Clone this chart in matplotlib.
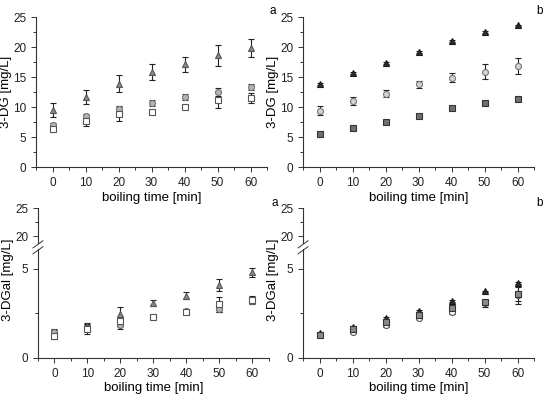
import matplotlib.pyplot as plt
from matplotlib.ticker import MultipleLocator

plt.rcParams['font.family'] = ['Liberation Sans', 'DejaVu Sans']
plt.rcParams['font.size'] = 8

times = [0, 10, 20, 30, 40, 50, 60]

# panel a, 3-DG
a_tri = [9.5, 11.7, 13.9, 15.8, 17.1, 18.6, 19.8]
a_tri_err = [1.1, 1.2, 1.4, 1.3, 1.3, 1.7, 1.5]
a_cir = [7.0, 8.5, 9.7, 10.6, 11.7, 12.5, 13.3]
a_cir_err = [0.3, 0.3, 0.5, 0.5, 0.5, 0.7, 0.5]
a_sq = [6.4, 7.7, 8.8, 9.2, 10.0, 11.1, 11.5]
a_sq_err = [0.3, 0.8, 1.2, 0.3, 0.3, 1.2, 0.9]

# panel b, 3-DG
b_tri = [13.8, 15.7, 17.4, 19.2, 21.0, 22.5, 23.6]
b_tri_err = [0.15, 0.15, 0.15, 0.15, 0.2, 0.15, 0.15]
b_cir = [9.4, 11.0, 12.2, 13.8, 14.9, 15.9, 16.8]
b_cir_err = [0.8, 0.6, 0.6, 0.6, 0.8, 1.2, 1.3]
b_sq = [5.5, 6.5, 7.5, 8.5, 9.8, 10.7, 11.4]
b_sq_err = [0.2, 0.2, 0.2, 0.2, 0.2, 0.2, 0.2]

# panel a, 3-DGal
c_tri = [1.42, 1.8, 2.45, 3.07, 3.5, 4.1, 4.8]
c_tri_err = [0.15, 0.15, 0.4, 0.15, 0.2, 0.35, 0.25]
c_cir = [1.45, 1.7, 1.85, 2.3, 2.65, 2.75, 3.2]
c_cir_err = [0.2, 0.2, 0.2, 0.05, 0.05, 0.15, 0.1]
c_sq = [1.25, 1.6, 2.05, 2.3, 2.6, 3.0, 3.25]
c_sq_err = [0.2, 0.25, 0.25, 0.05, 0.05, 0.4, 0.2]

# panel b, 3-DGal
d_tri = [1.38, 1.76, 2.23, 2.64, 3.17, 3.73, 4.2]
d_tri_err = [0.05, 0.05, 0.05, 0.05, 0.05, 0.05, 0.05]
d_cir = [1.3, 1.48, 1.82, 2.26, 2.6, 3.07, 3.54]
d_cir_err = [0.05, 0.1, 0.1, 0.1, 0.15, 0.2, 0.5]
d_sq = [1.3, 1.6, 2.0, 2.4, 2.78, 3.15, 3.6]
d_sq_err = [0.05, 0.1, 0.1, 0.1, 0.1, 0.1, 0.4]

style_a = [('^', '#8a8a8a', '#555555'), ('o', '#b4b4b4', '#777777'), ('s', 'white', '#555555')]
style_b = [('^', '#2e2e2e', '#1a1a1a'), ('o', '#d4d4d4', '#777777'), ('s', '#707070', '#333333')]
style_c = [('^', '#8a8a8a', '#555555'), ('o', '#b4b4b4', '#666666'), ('s', 'white', '#555555')]
style_d = [('^', '#2e2e2e', '#1a1a1a'), ('o', 'white', '#555555'), ('s', '#8a8a8a', '#333333')]


def draw_series(ax, series, styles):
    for (vals, errs), (m, fc, ec) in zip(series, styles):
        ax.errorbar(times, vals, yerr=errs, fmt=m, ms=4.3, mfc=fc, mec=ec, mew=0.8,
                    ecolor='#222222', elinewidth=0.8, capsize=2, capthick=0.8)


def style_axis(ax):
    for s in ['top', 'right']:
        ax.spines[s].set_visible(False)
    for s in ['left', 'bottom']:
        ax.spines[s].set_linewidth(0.8)
        ax.spines[s].set_color('#333333')
    ax.tick_params(which='both', direction='out', width=0.7, colors='#333333', labelcolor='#222222')
    ax.tick_params(which='major', length=3.5, labelsize=8.5)
    ax.tick_params(which='minor', length=2)


fig = plt.figure(figsize=(5.5, 3.96), dpi=100)

# top panels
for left, series, styles, lab in [
        (0.0655, [(a_tri, a_tri_err), (a_cir, a_cir_err), (a_sq, a_sq_err)], style_a, 'a'),
        (0.551, [(b_tri, b_tri_err), (b_cir, b_cir_err), (b_sq, b_sq_err)], style_b, 'b')]:
    ax = fig.add_axes([left, 0.578, 0.42, 0.379])
    draw_series(ax, series, styles)
    ax.set_xlim(-5, 65)
    ax.set_ylim(0, 25)
    ax.xaxis.set_major_locator(MultipleLocator(10))
    ax.xaxis.set_minor_locator(MultipleLocator(5))
    ax.yaxis.set_major_locator(MultipleLocator(5))
    ax.yaxis.set_minor_locator(MultipleLocator(2.5))
    style_axis(ax)
    ax.set_xlabel('boiling time [min]', fontsize=9.5, labelpad=2)
    ax.set_ylabel('3-DG [mg/L]', fontsize=9.5)
    ax.yaxis.set_label_coords(-0.105, 0.5)
    fig.text(left + 0.43, 0.972, lab, fontsize=8.5, ha='center', va='center')

# bottom panels with broken y axis
for left, series, styles, lab in [
        (0.069, [(c_tri, c_tri_err), (c_cir, c_cir_err), (c_sq, c_sq_err)], style_c, 'a'),
        (0.551, [(d_tri, d_tri_err), (d_cir, d_cir_err), (d_sq, d_sq_err)], style_d, 'b')]:
    ax_lo = fig.add_axes([left, 0.096, 0.42, 0.275])
    ax_hi = fig.add_axes([left, 0.386, 0.42, 0.088], sharex=ax_lo)
    draw_series(ax_lo, series, styles)
    ax_lo.set_xlim(-5, 65)
    ax_lo.set_ylim(0, 6.1)
    ax_hi.set_ylim(18.75, 25)
    ax_lo.xaxis.set_major_locator(MultipleLocator(10))
    ax_lo.xaxis.set_minor_locator(MultipleLocator(5))
    ax_lo.yaxis.set_major_locator(MultipleLocator(5))
    ax_lo.yaxis.set_minor_locator(MultipleLocator(2.5))
    ax_hi.yaxis.set_major_locator(MultipleLocator(5))
    ax_hi.yaxis.set_minor_locator(MultipleLocator(2.5))
    style_axis(ax_lo)
    style_axis(ax_hi)
    ax_hi.spines['bottom'].set_visible(False)
    ax_hi.tick_params(axis='x', which='both', bottom=False, labelbottom=False)
    ax_hi.patch.set_alpha(0)
    ax_lo.set_xlabel('boiling time [min]', fontsize=9.5, labelpad=2)
    ax_lo.set_ylabel('3-DGal [mg/L]', fontsize=9.5)
    ax_lo.yaxis.set_label_coords(-0.105, 0.72)
    # break marks on the y axis
    for yy in [0.371, 0.386]:
        fig.add_artist(plt.Line2D([left - 0.009, left + 0.009], [yy - 0.012, yy + 0.006],
                                  color='#333333', lw=0.7))
    fig.text(left + 0.43, 0.487, lab, fontsize=8.5, ha='center', va='center')

fig.savefig('out.png', dpi=100)
